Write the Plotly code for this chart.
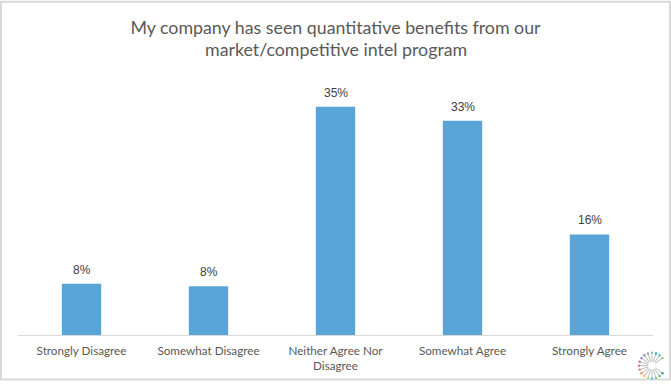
import math
import plotly.graph_objects as go

# ---- data ----
categories = ["Strongly Disagree", "Somewhat Disagree", "Neither Agree Nor<br>Disagree",
              "Somewhat Agree", "Strongly Agree"]
values = [7.95, 7.55, 35.4, 33.2, 15.6]
labels = ["8%", "8%", "35%", "33%", "16%"]
title_lines = ["My company has seen quantitative benefits from our",
               "market/competitive intel program"]

# ---- layout geometry (pixels) ----
W, H = 671, 384
L, R, T, B = 18, 18, 77, 46
pw, ph = W - L - R, H - T - B

def px(x):
    return (x - L) / pw

def py(y):
    return (H - B - y) / ph

title_font = dict(family="Lato, Open Sans, sans-serif", size=17.8, color="#595959")

fig = go.Figure()
fig.add_trace(go.Bar(
    x=categories, y=values, width=0.31,
    marker=dict(color="#59A5D8", line=dict(width=0)),
    hoverinfo="skip",
))

for c, v, t in zip(categories, values, labels):
    fig.add_annotation(x=c, y=v, text=t, showarrow=False, yanchor="bottom", yshift=5,
                       font=dict(family="Liberation Sans, Arial", size=12, color="#404040"))

# second title line (placed separately to match the tighter line spacing)
fig.add_annotation(xref="paper", yref="paper", x=0.5, y=py(49), xanchor="center",
                   yanchor="middle", text=title_lines[1], showarrow=False, font=title_font)

shapes = [
    dict(type="rect", xref="paper", yref="paper", x0=px(1), y0=py(383), x1=px(670), y1=py(1),
         line=dict(color="#D9D9D9", width=2), fillcolor="rgba(0,0,0,0)", layer="below"),
]

# small starburst logo in bottom-right corner
cx, cy, r0, r1 = 652, 369, 4, 13
tip_colors = ["#8BC34A", "#4DB6AC", "#26A69A", "#80CBC4", "#9E9E9E", "#7986CB", "#9575CD",
              "#BA68C8", "#F06292", "#E57373", "#FF8A65", "#FFB74D", "#AED581", "#4FC3F7"]
n = 20
k = 0
for i in range(n):
    a = 2 * math.pi * i / n
    deg = math.degrees(a)
    if deg < 35 or deg > 325:
        continue
    x0, y0 = cx + r0 * math.cos(a), cy - r0 * math.sin(a)
    x1, y1 = cx + r1 * math.cos(a), cy - r1 * math.sin(a)
    shapes.append(dict(type="line", xref="paper", yref="paper", x0=px(x0), y0=py(y0),
                       x1=px(x1), y1=py(y1), line=dict(color="#BDBDBD", width=1)))
    col = tip_colors[k % len(tip_colors)]
    k += 1
    shapes.append(dict(type="circle", xref="paper", yref="paper",
                       x0=px(x1 - 1.2), y0=py(y1 + 1.2), x1=px(x1 + 1.2), y1=py(y1 - 1.2),
                       line=dict(width=0), fillcolor=col))

fig.update_layout(
    width=W, height=H,
    margin=dict(l=L, r=R, t=T, b=B),
    paper_bgcolor="white", plot_bgcolor="white",
    showlegend=False,
    title=dict(text=title_lines[0], x=0.5, xanchor="center", y=1 - 28 / H, yanchor="middle",
               font=title_font),
    xaxis=dict(showline=True, linecolor="#D9D9D9", linewidth=1, ticks="", showgrid=False,
               ticklabelstandoff=5,
               tickfont=dict(family="Lato, Open Sans, sans-serif", size=11.7, color="#595959"),
               fixedrange=True),
    yaxis=dict(visible=False, range=[0, 40], showgrid=False, zeroline=False, fixedrange=True),
    shapes=shapes,
)

fig.write_html("out.html", config={"displayModeBar": False},
               post_script="document.body.style.margin='0';document.body.style.padding='0';")
